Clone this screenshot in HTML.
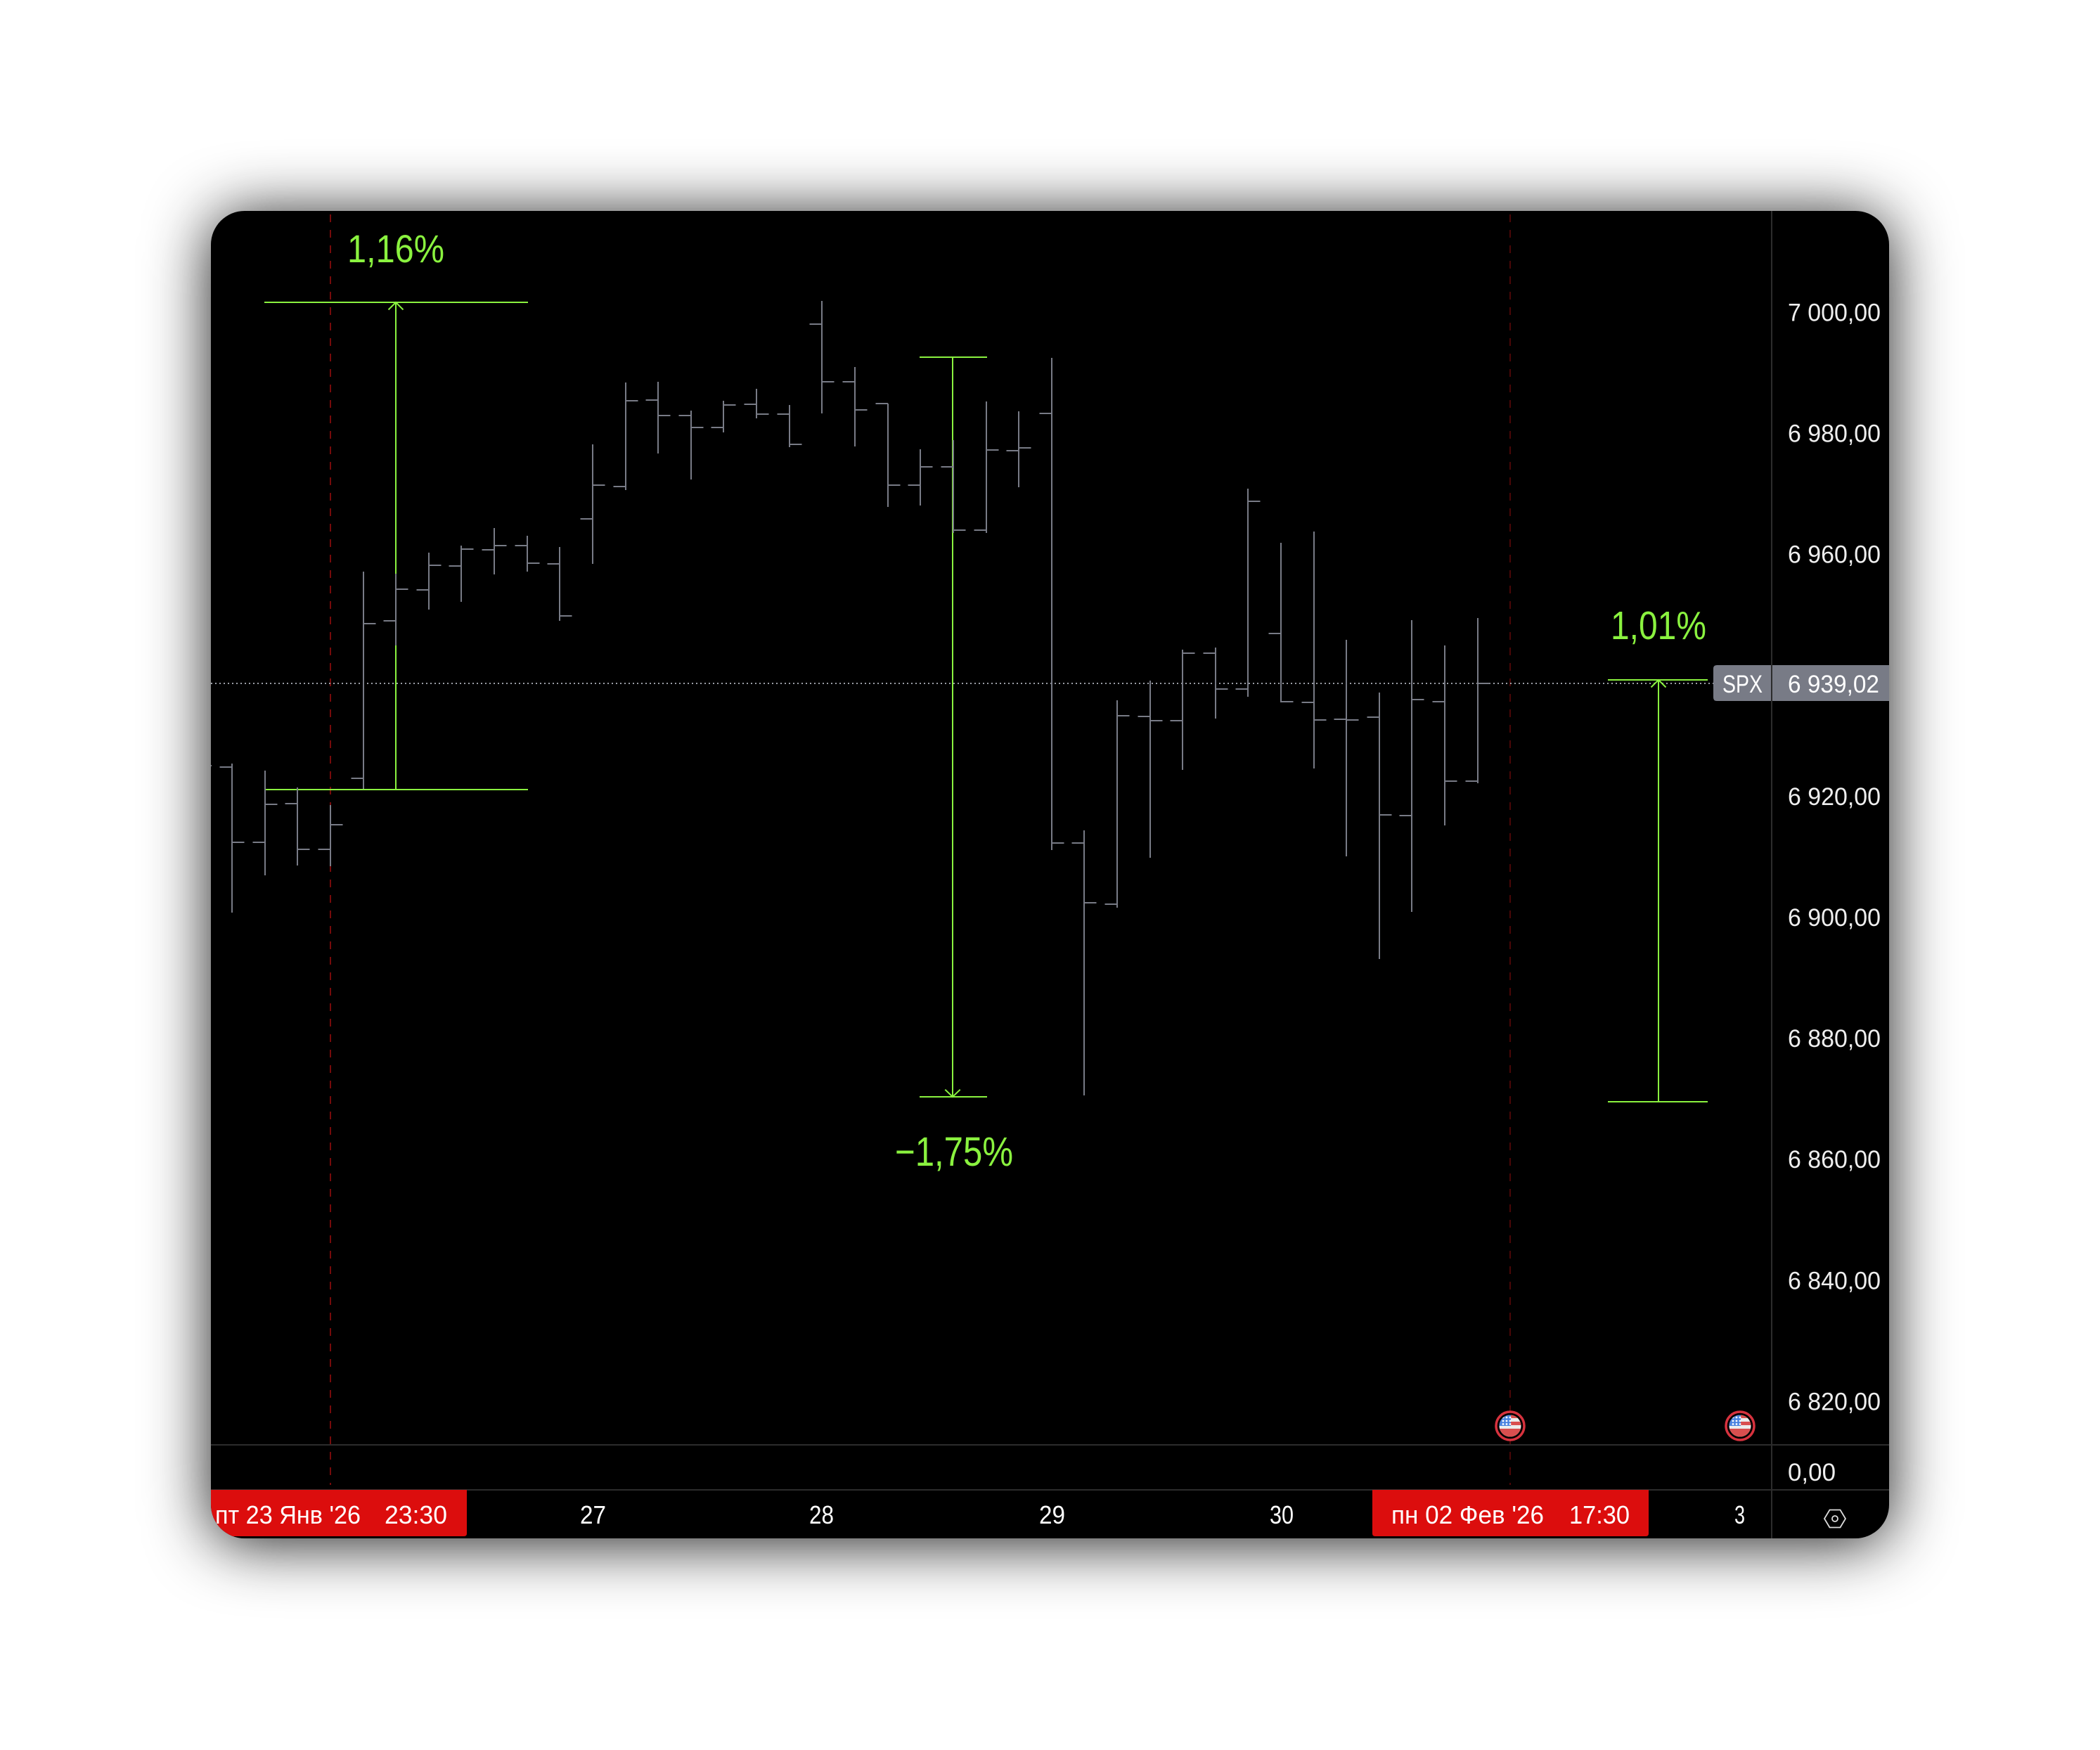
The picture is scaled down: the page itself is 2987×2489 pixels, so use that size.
<!DOCTYPE html>
<html>
<head>
<meta charset="utf-8">
<style>
  html,body{margin:0;padding:0;background:#ffffff;}
  body{width:2987px;height:2489px;position:relative;overflow:hidden;}
  #card{position:absolute;left:300px;top:300px;width:2387px;height:1888px;border-radius:48px;background:#000;
        box-shadow:0 6px 90px rgba(0,0,0,0.9);overflow:hidden;}
  svg text{font-family:"Liberation Sans","Noto Sans CJK SC",sans-serif;}
</style>
</head>
<body>
<div id="card">
<svg width="2387" height="1888" viewBox="300 300 2387 1888" xmlns="http://www.w3.org/2000/svg">
  <defs>
    <clipPath id="fc"><circle cx="0" cy="0" r="15.5"/></clipPath>
    <g id="flag">
      <circle cx="0" cy="0" r="20" fill="#000" stroke="#d7323e" stroke-width="3.5"/>
      <g clip-path="url(#fc)">
        <rect x="-16" y="-16" width="32" height="32" fill="#ececec"/>
        <rect x="-16" y="-16" width="32" height="5" fill="#d94f4f"/>
        <rect x="-16" y="-6" width="32" height="5" fill="#d94f4f"/>
        <rect x="-16" y="4" width="32" height="12" fill="#d94f4f"/>
        <rect x="-16" y="-16" width="17" height="16" fill="#4a84e0"/>
        <g fill="#ffffff">
          <circle cx="-10" cy="-12" r="1.4"/><circle cx="-5" cy="-12" r="1.4"/><circle cx="0" cy="-12" r="1.4"/>
          <circle cx="-10" cy="-7" r="1.4"/><circle cx="-5" cy="-7" r="1.4"/><circle cx="0" cy="-7" r="1.4"/>
          <circle cx="-10" cy="-2.5" r="1.4"/><circle cx="-5" cy="-2.5" r="1.4"/><circle cx="0" cy="-2.5" r="1.4"/>
        </g>
      </g>
    </g>
  </defs>

  <!-- pane separators -->
  <g stroke="#2c2c2c" stroke-width="2" fill="none">
    <line x1="2520" y1="300" x2="2520" y2="2188"/>
    <line x1="300" y1="2055" x2="2687" y2="2055"/>
    <line x1="300" y1="2119" x2="2687" y2="2119"/>
  </g>

  <!-- dashed red session lines -->
  <line x1="470" y1="305" x2="470" y2="2112" stroke="#760a0a" stroke-width="2" stroke-dasharray="11 11"/>
  <line x1="2148" y1="305" x2="2148" y2="2112" stroke="#5c0909" stroke-width="1.6" stroke-dasharray="11 11"/>

  <!-- price dotted line -->
  <line x1="300" y1="972" x2="2437" y2="972" stroke="#9a9da6" stroke-width="2" stroke-dasharray="2 4"/>

  <!-- measure tools -->
  <g stroke="#8af23f" stroke-width="2" fill="none">
    <!-- 1,16% -->
    <line x1="376" y1="430" x2="751" y2="430"/>
    <line x1="377" y1="1123" x2="751" y2="1123"/>
    <line x1="563" y1="430" x2="563" y2="1123"/>
    <polyline points="552.5,440.5 563,430 573.5,440.5"/>
    <!-- -1,75% -->
    <line x1="1308" y1="508" x2="1404" y2="508"/>
    <line x1="1308" y1="1560" x2="1404" y2="1560"/>
    <line x1="1355" y1="508" x2="1355" y2="1560"/>
    <polyline points="1344.3,1549.7 1355,1560 1365.7,1549.7"/>
    <!-- 1,01% -->
    <line x1="2287" y1="967" x2="2429" y2="967"/>
    <line x1="2287" y1="1567" x2="2429" y2="1567"/>
    <line x1="2359" y1="967" x2="2359" y2="1567"/>
    <polyline points="2348.5,977.5 2359,967 2369.5,977.5"/>
  </g>
  <g fill="#8af23f" font-size="56">
    <text x="494" y="373" textLength="138" lengthAdjust="spacingAndGlyphs">1,16%</text>
    <text x="1273" y="1658" font-size="58" textLength="168" lengthAdjust="spacingAndGlyphs">−1,75%</text>
    <text x="2291" y="909" font-size="57" textLength="136" lengthAdjust="spacingAndGlyphs">1,01%</text>
  </g>

  <!-- OHLC bars -->
  <path stroke="#787b86" stroke-width="2" fill="none" d="
M265.5 1089H301
M330 1086V1298M312.5 1091H330M330 1198H347.5
M377 1096V1245M359.5 1198H377M377 1144H394.5
M423 1120V1231M405.5 1143H423M423 1208H440.5
M470 1145V1232M452.5 1208H470M470 1173H487.5
M517 813V1122M499.5 1107H517M517 887H534.5
M563 816V918M545.5 883H563M563 838H580.5
M610 786V867M592.5 839H610M610 804H627.5
M656 776V856M638.5 805H656M656 781H673.5
M703 751V817M685.5 782H703M703 776H720.5
M750 762V813M732.5 776H750M750 801H767.5
M796 778V883M778.5 802H796M796 876H813.5
M843 632V802M825.5 738H843M843 690H860.5
M890 544V697M872.5 692H890M890 570H907.5
M936 543V645M918.5 569H936M936 591H953.5
M983 584V682M965.5 591H983M983 608H1000.5
M1029 570V615M1011.5 608H1029M1029 576H1046.5
M1076 553V595M1058.5 575H1076M1076 589H1093.5
M1123 576V636M1105.5 589H1123M1123 632H1140.5
M1169 428V588M1151.5 461H1169M1169 543H1186.5
M1216 522V635M1198.5 543H1216M1216 583H1233.5
M1263 574V721M1245.5 574H1263M1263 690H1280.5
M1309 639V719M1291.5 690H1309M1309 664H1326.5
M1356 626V758M1338.5 664H1356M1356 754H1373.5
M1403 571V758M1385.5 754H1403M1403 640H1420.5
M1449 585V693M1431.5 641H1449M1449 637H1466.5
M1496 509V1209M1478.5 588H1496M1496 1199H1513.5
M1542 1181V1558M1524.5 1199H1542M1542 1284H1559.5
M1589 996V1291M1571.5 1286H1589M1589 1018H1606.5
M1636 968V1220M1618.5 1019H1636M1636 1025H1653.5
M1682 924V1095M1664.5 1025H1682M1682 929H1699.5
M1729 921V1022M1711.5 929H1729M1729 980H1746.5
M1775 695V991M1757.5 980H1775M1775 713H1792.5
M1822 772V999M1804.5 901H1822M1822 998H1839.5
M1869 756V1093M1851.5 999H1869M1869 1024H1886.5
M1915 910V1218M1897.5 1023H1915M1915 1024H1932.5
M1962 985V1364M1944.5 1020H1962M1962 1159H1979.5
M2008 882V1297M1990.5 1160H2008M2008 995H2025.5
M2055 918V1174M2037.5 998H2055M2055 1111H2072.5
M2102 879V1114M2084.5 1111H2102M2102 972H2119.5
"/>

  <!-- price axis labels -->
  <g fill="#eeeeee" font-size="35">
    <text x="2543" y="456.5" textLength="132" lengthAdjust="spacingAndGlyphs">7 000,00</text>
    <text x="2543" y="628.6" textLength="132" lengthAdjust="spacingAndGlyphs">6 980,00</text>
    <text x="2543" y="800.7" textLength="132" lengthAdjust="spacingAndGlyphs">6 960,00</text>
    <text x="2543" y="1144.9" textLength="132" lengthAdjust="spacingAndGlyphs">6 920,00</text>
    <text x="2543" y="1317" textLength="132" lengthAdjust="spacingAndGlyphs">6 900,00</text>
    <text x="2543" y="1489.1" textLength="132" lengthAdjust="spacingAndGlyphs">6 880,00</text>
    <text x="2543" y="1661.2" textLength="132" lengthAdjust="spacingAndGlyphs">6 860,00</text>
    <text x="2543" y="1833.3" textLength="132" lengthAdjust="spacingAndGlyphs">6 840,00</text>
    <text x="2543" y="2005.4" textLength="132" lengthAdjust="spacingAndGlyphs">6 820,00</text>
    <text x="2543" y="2106" textLength="68" lengthAdjust="spacingAndGlyphs">0,00</text>
  </g>

  <!-- SPX last price label -->
  <path d="M2442 946H2519V997H2442Q2437 997 2437 992V951Q2437 946 2442 946Z" fill="#787b86"/>
  <rect x="2521" y="946" width="166" height="51" fill="#787b86"/>
  <g fill="#ffffff" font-size="35">
    <text x="2450" y="985" textLength="57" lengthAdjust="spacingAndGlyphs">SPX</text>
    <text x="2543" y="985" textLength="130" lengthAdjust="spacingAndGlyphs">6 939,02</text>
  </g>

  <!-- event flags -->
  <use href="#flag" x="2148" y="2028"/>
  <use href="#flag" x="2475" y="2028"/>

  <!-- time axis -->
  <path d="M300 2119H664V2181Q664 2185 660 2185H300Z" fill="#dc0d0d"/>
  <path d="M1952 2119H2345V2181Q2345 2185 2341 2185H1956Q1952 2185 1952 2181Z" fill="#dc0d0d"/>
  <g fill="#ffffff" font-size="36">
    <text x="306" y="2167" textLength="207" lengthAdjust="spacingAndGlyphs">пт 23 Янв '26</text>
    <text x="547" y="2167" textLength="89" lengthAdjust="spacingAndGlyphs">23:30</text>
    <text x="825" y="2167" textLength="37" lengthAdjust="spacingAndGlyphs">27</text>
    <text x="1151" y="2167" textLength="35" lengthAdjust="spacingAndGlyphs">28</text>
    <text x="1478" y="2167" textLength="37" lengthAdjust="spacingAndGlyphs">29</text>
    <text x="1806" y="2167" textLength="34" lengthAdjust="spacingAndGlyphs">30</text>
    <text x="1979" y="2167" textLength="217" lengthAdjust="spacingAndGlyphs">пн 02 Фев '26</text>
    <text x="2232" y="2167" textLength="86" lengthAdjust="spacingAndGlyphs">17:30</text>
    <text x="2467" y="2167" textLength="15" lengthAdjust="spacingAndGlyphs">3</text>
  </g>

  <!-- settings icon -->
  <g fill="none" stroke="#dddddd" stroke-width="1.8">
    <polygon points="2595,2160 2602.5,2147.5 2617.5,2147.5 2625,2160 2617.5,2172.5 2602.5,2172.5"/>
    <circle cx="2610" cy="2160" r="4"/>
  </g>
</svg>
</div>
</body>
</html>
